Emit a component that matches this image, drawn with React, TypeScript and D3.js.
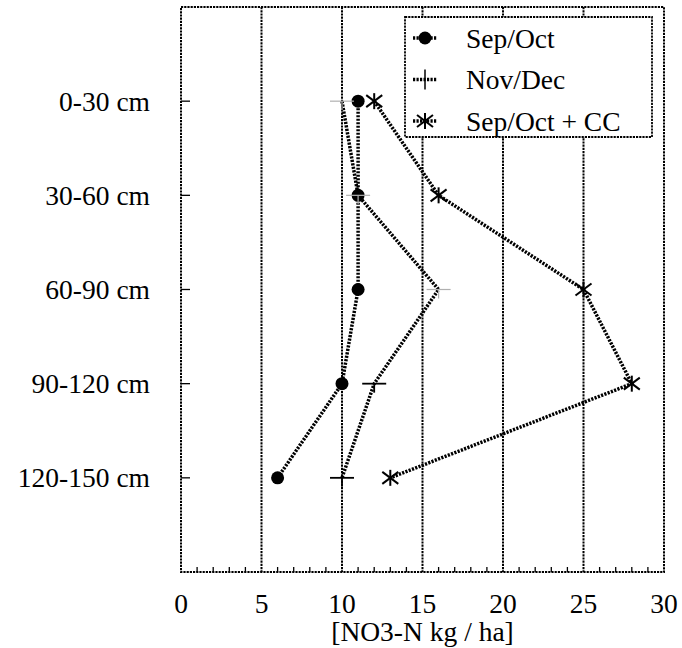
import React from "react";
import * as d3 from "d3";

const depths = ["0-30 cm", "30-60 cm", "60-90 cm", "90-120 cm", "120-150 cm"];
const sepOct = [11, 11, 11, 10, 6];
const novDec = [10, 11, 16, 12, 10];
const sepOctCC = [12, 16, 25, 28, 13];
const xTicks = [0, 5, 10, 15, 20, 25, 30];
const seriesNames = ["Sep/Oct", "Nov/Dec", "Sep/Oct + CC"];

const W = 682, H = 648;
const left = 181, right = 664, top = 7, bottom = 572;
const FONT = "Liberation Serif, Times New Roman, DejaVu Serif, serif";

export default function App() {
  const x = d3.scaleLinear().domain([0, 30]).range([left, right]);
  const y = d3.scaleLinear().domain([0, depths.length + 1]).range([top, bottom]);
  const yPos = (i: number) => y(i + 1);
  const line = d3.line<number>().x((d) => x(d)).y((_, i) => yPos(i));
  const minor = d3.range(1, 30).filter((v) => v % 5 !== 0);
  const dash = "2.2,1";
  const dataDash = "2.2,1.3";

  const circle = (cx: number, cy: number, k: string) => (
    <circle key={k} cx={cx} cy={cy} r={6.5} fill="#000" />
  );
  const plus = (cx: number, cy: number, k: string, gray: boolean) => (
    <g key={k} stroke={gray ? "#b0b0b0" : "#000"} strokeWidth={gray ? 1.2 : 1.8}>
      <line x1={cx - 12} x2={cx + 12} y1={cy} y2={cy} />
      <line x1={cx} x2={cx} y1={cy} y2={cy + 9} />
    </g>
  );
  const star = (cx: number, cy: number, k: string) => (
    <g key={k} stroke="#000" strokeWidth={2}>
      <line x1={cx - 8} x2={cx + 8} y1={cy - 6} y2={cy + 6} />
      <line x1={cx - 8} x2={cx + 8} y1={cy + 6} y2={cy - 6} />
      <line x1={cx} x2={cx} y1={cy - 8} y2={cy + 8} />
    </g>
  );

  return (
    <svg width={W} height={H} style={{ position: "absolute", left: 0, top: 0 }} fontFamily={FONT} fontSize={27.5}>
      <rect width={W} height={H} fill="#fff" />
      {xTicks.slice(1, -1).map((v) => (
        <line key={"g" + v} x1={x(v)} x2={x(v)} y1={top} y2={bottom} stroke="#000" strokeWidth={2} strokeDasharray={dash} />
      ))}
      {minor.map((v) => (
        <line key={"m" + v} x1={x(v)} x2={x(v)} y1={bottom} y2={bottom - 5} stroke="#000" strokeWidth={1.3} />
      ))}
      {depths.map((d, i) => (
        <line key={"yt" + i} x1={left} x2={left + 9} y1={yPos(i)} y2={yPos(i)} stroke="#000" strokeWidth={1.3} />
      ))}
      <rect x={left} y={top} width={right - left} height={bottom - top} fill="none" stroke="#000" strokeWidth={2} strokeDasharray={dash} />
      <rect x={405} y={17} width={247} height={120} fill="#fff" stroke="#000" strokeWidth={1.8} strokeDasharray={dash} />
      {seriesNames.map((n, i) => {
        const ly = 38 + i * 41.5;
        return (
          <g key={"lg" + i}>
            <line x1={413} x2={437} y1={ly} y2={ly} stroke="#000" strokeWidth={3.5} strokeDasharray={dataDash} />
            {i === 0 && circle(425, ly, "lc")}
            {i === 1 && <line x1={425} x2={425} y1={ly - 10} y2={ly + 10} stroke="#000" strokeWidth={1.5} />}
            {i === 2 && star(425, ly, "ls")}
            <text x={466} y={ly + 9.5}>{n}</text>
          </g>
        );
      })}
      {[sepOct, novDec, sepOctCC].map((s, k) => (
        <path key={"l" + k} d={line(s) || ""} fill="none" stroke="#000" strokeWidth={3.5} strokeDasharray={dataDash} />
      ))}
      {sepOct.map((v, i) => circle(x(v), yPos(i), "c" + i))}
      {novDec.map((v, i) => plus(x(v), yPos(i), "p" + i, i < 3))}
      {sepOctCC.map((v, i) => star(x(v), yPos(i), "s" + i))}
      {xTicks.map((v) => (
        <text key={"xl" + v} x={x(v)} y={613} textAnchor="middle">{v}</text>
      ))}
      {depths.map((d, i) => (
        <text key={"yl" + i} x={150} y={yPos(i) + 9.5} textAnchor="end">{d}</text>
      ))}
      <text x={(left + right) / 2} y={641} textAnchor="middle">[NO3-N kg / ha]</text>
    </svg>
  );
}
